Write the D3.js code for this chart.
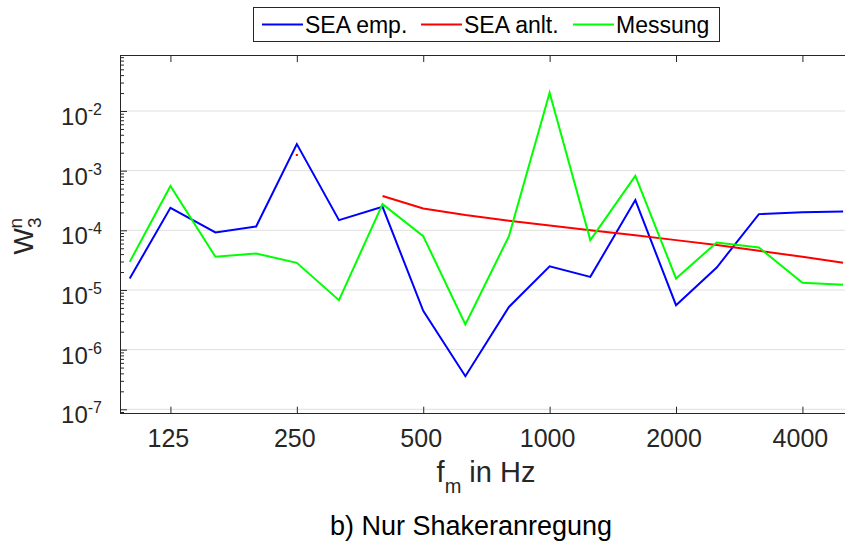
<!DOCTYPE html>
<html><head><meta charset="utf-8">
<script src="https://cdn.jsdelivr.net/npm/d3@7"></script>
<style>
html,body{margin:0;padding:0;background:#fff;}
svg{display:block;font-family:"Liberation Sans",Arial,Helvetica,sans-serif;}
</style></head>
<body>
<svg id="c" width="845" height="542"></svg>
<script>
const freqs = [100,125,160,200,250,315,400,500,630,800,1000,1250,1600,2000,2500,3150,4000,5000];
const seaEmp = [1.56e-5,2.39e-4,9.2e-5,1.16e-4,2.79e-3,1.48e-4,2.48e-4,4.47e-6,3.58e-7,5.2e-6,2.5e-5,1.66e-5,3.21e-4,5.56e-6,2.38e-5,1.87e-4,2.0e-4,2.07e-4];
const seaAnlt = [null,null,null,null,1.83e-3,null,3.75e-4,2.33e-4,1.8e-4,1.45e-4,1.21e-4,1.0e-4,8.3e-5,6.85e-5,5.65e-5,4.53e-5,3.6e-5,2.85e-5];
const messung = [2.96e-5,5.52e-4,3.6e-5,4.09e-5,2.85e-5,6.75e-6,2.75e-4,8.0e-5,2.64e-6,8.0e-5,2.03e-2,6.86e-5,8.2e-4,1.56e-5,6.26e-5,5.17e-5,1.32e-5,1.22e-5];
const xTicks = [125,250,500,1000,2000,4000];
const xTickLabels = ["125","250","500","1000","2000","4000"];
const yTicks = [1e-7,1e-6,1e-5,1e-4,1e-3,1e-2];
const yTickExps = ["-7","-6","-5","-4","-3","-2"];
const seriesNames = ["SEA emp.","SEA anlt.","Messung"];
const seriesColors = ["#0000ff","#ff0000","#00ff00"];

const svg = d3.select("#c");
const pL=120, pT=55, pB=413.7;
const xMin=94.8, xMax=5300;
const pxPerOct=126.4;
const pR = pL + pxPerOct*Math.log2(xMax/xMin);
const x = d3.scaleLog().domain([xMin,xMax]).range([pL,pR]);
const y = d3.scaleLog().domain([Math.pow(10,-7.074),Math.pow(10,-1.061)]).range([pB,pT]);
const axisCol="#262626";

// gridlines
svg.append("g").selectAll("line").data(yTicks).join("line")
  .attr("x1",pL).attr("x2",pR)
  .attr("y1",d=>y(d)).attr("y2",d=>y(d))
  .attr("stroke","#dfdfdf").attr("stroke-width",1);

// clip
svg.append("clipPath").attr("id","clip").append("rect")
  .attr("x",pL).attr("y",pT).attr("width",pR-pL).attr("height",pB-pT);

const series=[seaEmp,seaAnlt,messung];
const g = svg.append("g").attr("clip-path","url(#clip)");
series.forEach((s,i)=>{
  const pts = freqs.map((f,j)=>({f,v:s[j]}));
  const line = d3.line().defined(d=>d.v!=null).x(d=>x(d.f)).y(d=>y(d.v));
  g.append("path").attr("d",line(pts)).attr("fill","none")
    .attr("stroke",seriesColors[i]).attr("stroke-width",2).attr("stroke-linejoin","miter");
  pts.forEach((d,j)=>{
    if(d.v==null) return;
    const prev = j>0 ? pts[j-1].v : null, next = j<pts.length-1 ? pts[j+1].v : null;
    if(prev==null && next==null){
      g.append("rect").attr("x",x(d.f)-1).attr("y",y(d.v)-1).attr("width",2).attr("height",2)
        .attr("fill",seriesColors[i]);
    }
  });
});

// axes frame
const ax = svg.append("g").attr("stroke",axisCol).attr("stroke-width",1).attr("shape-rendering","crispEdges");
ax.append("line").attr("x1",pL).attr("x2",pR).attr("y1",pB).attr("y2",pB);
ax.append("line").attr("x1",pL).attr("x2",pR).attr("y1",pT).attr("y2",pT);
ax.append("line").attr("x1",pL).attr("x2",pL).attr("y1",pT).attr("y2",pB);

// x ticks (inside, top & bottom)
const xAxisB = d3.axisBottom(x).tickValues(xTicks).tickSize(-7).tickFormat("");
const xAxisT = d3.axisTop(x).tickValues(xTicks).tickSize(-7).tickFormat("");
const gb = svg.append("g").attr("transform",`translate(0,${pB})`).call(xAxisB);
const gt = svg.append("g").attr("transform",`translate(0,${pT})`).call(xAxisT);
[gb,gt].forEach(a=>{a.select(".domain").remove(); a.selectAll("line").attr("stroke",axisCol);});

// x tick labels
svg.append("g").selectAll("text").data(xTicks).join("text")
  .attr("x",d=>x(d)-2).attr("y",447)
  .attr("text-anchor","middle").attr("font-size",25).attr("fill",axisCol)
  .text((d,i)=>xTickLabels[i]);

// y ticks major + minor
const yMinor=[];
for(let e=-8;e<=-1;e++){for(let m=2;m<=9;m++){const v=m*Math.pow(10,e); if(v>=y.domain()[0]&&v<=y.domain()[1]) yMinor.push(v);}}
const yAxisMaj = d3.axisLeft(y).tickValues(yTicks).tickSize(-7).tickFormat("");
const yAxisMin = d3.axisLeft(y).tickValues(yMinor).tickSize(-4).tickFormat("");
const gy1 = svg.append("g").attr("transform",`translate(${pL},0)`).call(yAxisMaj);
const gy2 = svg.append("g").attr("transform",`translate(${pL},0)`).call(yAxisMin);
[gy1,gy2].forEach(a=>{a.select(".domain").remove(); a.selectAll("line").attr("stroke",axisCol);});

// y tick labels
const yl = svg.append("g").selectAll("text").data(yTicks).join("text")
  .attr("x",102).attr("y",d=>y(d)+14)
  .attr("text-anchor","end").attr("fill",axisCol).attr("font-size",24);
yl.append("tspan").text("10");
yl.append("tspan").attr("font-size",16).attr("dy",-10).text((d,i)=>yTickExps[i]);

// y label
const ylab = svg.append("text").attr("transform","translate(33,236) rotate(-90)")
  .attr("text-anchor","middle").attr("fill",axisCol).attr("font-size",28);
ylab.append("tspan").text("W");
ylab.append("tspan").attr("font-size",19).attr("dy",8).text("3");
ylab.append("tspan").attr("font-size",19).attr("dx",-11).attr("dy",-19).text("n");

// x label
const xlab = svg.append("text").attr("x",486).attr("y",482)
  .attr("text-anchor","middle").attr("fill",axisCol).attr("font-size",29);
xlab.append("tspan").text("f");
xlab.append("tspan").attr("font-size",20).attr("dy",11).text("m");
xlab.append("tspan").attr("dy",-11).text(" in Hz");

// title
svg.append("text").attr("x",471).attr("y",535).attr("text-anchor","middle")
  .attr("fill","#000").attr("font-size",27).text("b) Nur Shakeranregung");

// legend
const lg = svg.append("g");
lg.append("rect").attr("x",253.5).attr("y",7.5).attr("width",466).attr("height",34)
  .attr("fill","#fff").attr("stroke",axisCol).attr("stroke-width",1);
const legX=[262,421,573];
seriesNames.forEach((n,i)=>{
  lg.append("line").attr("x1",legX[i]).attr("x2",legX[i]+41).attr("y1",24.5).attr("y2",24.5)
    .attr("stroke",seriesColors[i]).attr("stroke-width",2);
  lg.append("text").attr("x",legX[i]+43).attr("y",33).attr("font-size",23).attr("fill","#000").text(n);
});
</script>
</body></html>
